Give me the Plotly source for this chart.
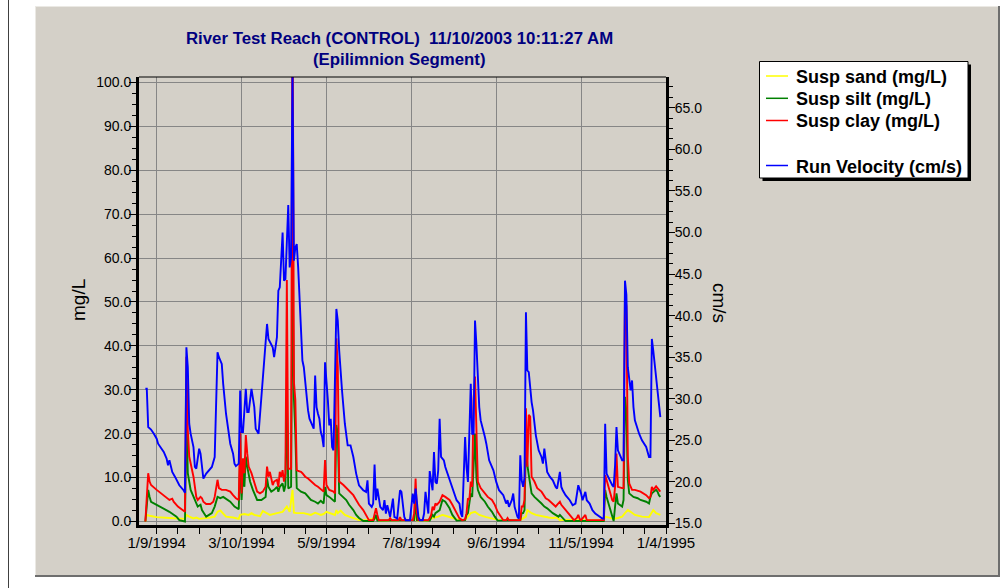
import pandas as pd
import plotly.graph_objects as go

# ---- data: day offsets from 1 Jan 1994 and readings ----
START = "1994-01-01"

vel_day = [0, 1, 2, 4, 6, 8, 9, 13, 15, 16, 17, 19, 21, 24, 27, 28, 29, 30, 31, 32, 34, 35, 36, 38, 39, 40,
           41, 43, 46, 47, 49, 51, 52, 54, 55, 57, 60, 62, 63, 64, 66, 67, 68, 69, 71, 72, 73, 75, 77, 78,
           80, 83, 85, 86, 87, 90, 91, 93, 94, 95, 97, 98, 99, 101, 102, 103, 104, 105, 106, 107, 108, 110,
           111, 112, 113, 114, 115, 116, 118, 119, 120, 121, 122, 123, 124, 125, 126, 127, 129, 130, 131,
           132, 133, 135, 136, 137, 139, 141, 143, 145, 147, 149, 151, 154, 156, 157, 158, 160, 161, 162,
           163, 164, 166, 168, 169, 170, 171, 173, 175, 176, 178, 180, 181, 182, 183, 184, 187, 189, 190,
           191, 192, 193, 194, 196, 197, 198, 200, 201, 203, 204, 205, 206, 207, 208, 209, 211, 212, 215,
           217, 218, 220, 222, 223, 224, 226, 227, 228, 230, 231, 232, 233, 234, 236, 237, 239, 240, 241,
           243, 246, 248, 250, 253, 255, 256, 257, 259, 260, 261, 262, 263, 264, 265, 266, 267, 268, 269,
           270, 271, 273, 274, 276, 278, 280, 281, 282, 283, 284, 286, 288, 290, 291, 293, 294, 295, 297,
           300, 302, 304, 306, 308, 309, 311, 312, 314, 316, 318, 321, 323, 324, 325, 326, 328, 330, 331,
           332, 333, 334, 336, 337, 338, 339, 340, 341, 343, 344, 345, 346, 349, 351, 354, 356, 357, 358,
           359, 361, 362, 363, 364]
velocity = [31.2, 31.2, 26.6, 26.3, 25.8, 25.2, 24.6, 23.6, 22.8, 22.0, 22.6, 21.2, 20.6, 19.6, 19.0, 18.7,
            36.2, 33.8, 27.0, 25.8, 24.2, 21.8, 21.6, 24.0, 23.4, 21.8, 20.4, 21.0, 21.6, 21.8, 23.0, 35.6,
            35.0, 34.2, 31.8, 28.2, 24.6, 23.4, 22.2, 21.9, 22.2, 31.0, 26.0, 26.0, 31.2, 28.4, 28.4, 31.2,
            29.0, 26.4, 25.8, 33.0, 37.2, 39.0, 37.2, 36.2, 35.0, 37.4, 43.0, 43.4, 50.0, 44.2, 44.4, 53.3,
            45.8, 47.0, 70.0, 46.6, 48.2, 48.6, 45.8, 39.0, 34.6, 33.8, 31.8, 30.2, 28.6, 27.6, 26.8, 26.4,
            32.8, 29.0, 28.2, 27.6, 26.0, 25.4, 24.2, 34.4, 29.8, 26.8, 27.6, 24.2, 23.8, 40.8, 39.4, 35.8,
            31.0, 27.0, 24.4, 24.4, 23.0, 21.0, 19.6, 19.0, 18.8, 20.2, 17.4, 17.0, 17.4, 22.1, 17.8, 19.2,
            17.0, 16.6, 17.8, 16.2, 17.2, 15.8, 18.0, 15.8, 15.6, 19.0, 18.8, 17.0, 15.8, 15.4, 15.4, 18.6,
            17.4, 19.2, 17.4, 15.8, 15.4, 15.4, 16.2, 18.8, 16.2, 21.3, 19.0, 23.6, 20.0, 19.8, 21.4, 27.6,
            23.0, 22.6, 21.8, 20.2, 19.2, 18.6, 17.8, 17.4, 16.2, 15.8, 25.4, 21.8, 20.0, 31.8, 25.8, 25.8,
            39.4, 36.5, 29.0, 27.4, 26.2, 25.4, 24.6, 22.6, 21.4, 20.0, 19.0, 18.4, 17.4, 17.8, 17.0, 17.8,
            18.6, 17.0, 16.4, 15.8, 15.6, 23.2, 20.2, 19.4, 20.5, 40.4, 33.4, 33.2, 29.6, 28.6, 25.6, 23.8,
            23.0, 22.2, 24.0, 22.2, 21.2, 20.6, 20.2, 19.4, 19.2, 21.2, 19.4, 19.0, 18.4, 17.8, 17.2, 17.4,
            19.6, 18.6, 17.8, 18.8, 17.8, 17.4, 16.6, 16.2, 15.8, 15.6, 15.6, 27.0, 21.0, 20.2, 19.6, 19.4,
            22.0, 26.6, 23.8, 23.0, 22.6, 22.6, 44.2, 42.5, 33.8, 31.0, 32.2, 29.0, 27.4, 25.8, 25.0, 24.2,
            23.0, 23.0, 37.2, 35.8, 32.6, 30.2, 29.4, 27.8]

clay_day = [0, 2, 3, 4, 8, 13, 17, 19, 20, 23, 27, 28, 29, 30, 31, 34, 36, 37, 39, 40, 41, 43, 46, 48, 49,
            51, 52, 54, 57, 60, 62, 64, 66, 67, 68, 69, 70, 71, 72, 73, 75, 77, 79, 81, 83, 85, 86, 87, 88,
            90, 91, 93, 94, 95, 96, 97, 98, 99, 100, 101, 103, 104, 105, 106, 107, 108, 110, 111, 113, 115,
            117, 120, 122, 124, 126, 127, 128, 130, 133, 134, 135, 136, 137, 140, 142, 144, 147, 149, 151,
            154, 156, 157, 158, 161, 162, 163, 164, 165, 172, 173, 174, 179, 180, 181, 189, 190, 191, 192,
            193, 200, 201, 202, 203, 204, 205, 206, 208, 210, 212, 215, 217, 220, 222, 224, 226, 227, 228,
            229, 230, 231, 232, 233, 234, 235, 237, 240, 242, 245, 247, 249, 251, 253, 255, 256, 257, 265,
            266, 267, 268, 269, 270, 271, 272, 273, 275, 277, 280, 282, 283, 285, 288, 290, 291, 293, 294,
            297, 299, 301, 303, 305, 306, 307, 308, 310, 311, 312, 324, 325, 326, 328, 330, 331, 332, 333,
            334, 337, 338, 339, 340, 341, 342, 344, 346, 350, 354, 356, 357, 358, 359, 361, 362, 363, 364]
clay = [0.0, 11.0, 9.1, 8.3, 7.2, 6.0, 4.9, 5.2, 4.5, 3.4, 2.4, 2.2, 37.5, 20.8, 14.8, 10.2, 5.6, 4.9, 5.6,
        5.3, 4.5, 4.0, 4.0, 4.5, 5.6, 9.5, 7.6, 7.2, 7.2, 6.8, 6.0, 5.3, 4.9, 20.5, 6.4, 14.4, 11.0, 19.7,
        15.5, 12.5, 11.0, 9.1, 6.8, 6.4, 6.8, 7.9, 12.5, 10.2, 11.3, 8.3, 9.1, 9.5, 7.9, 11.3, 10.2, 11.7,
        9.1, 11.0, 55.0, 12.0, 12.0, 130.0, 31.8, 27.7, 11.7, 11.5, 11.3, 11.0, 10.2, 9.8, 9.1, 8.3, 7.9,
        7.4, 6.8, 14.0, 8.3, 7.2, 6.8, 6.4, 41.7, 35.3, 9.1, 8.3, 7.6, 6.8, 6.0, 4.9, 3.8, 2.6, 1.5, 1.1,
        0.3, 0.3, 1.5, 3.0, 1.5, 0.3, 0.3, 0.8, 0.3, 0.3, 1.0, 0.3, 0.3, 1.9, 9.8, 1.9, 0.3, 0.3, 0.8, 1.5,
        3.4, 2.6, 4.1, 3.8, 4.5, 6.0, 5.6, 4.9, 3.8, 1.9, 0.7, 0.3, 0.5, 1.9, 5.3, 4.9, 9.1, 7.9, 27.7,
        33.0, 20.1, 9.1, 7.6, 6.4, 5.6, 4.9, 3.8, 2.2, 1.1, 0.3, 0.3, 0.8, 0.3, 0.3, 3.4, 3.4, 4.9, 25.8,
        12.5, 24.3, 23.9, 10.2, 9.1, 7.6, 6.8, 5.6, 5.3, 4.9, 4.1, 3.4, 3.8, 4.5, 3.8, 2.6, 1.9, 1.1, 0.3,
        0.8, 1.5, 0.6, 0.3, 1.1, 1.5, 0.3, 0.3, 10.6, 9.5, 6.8, 4.9, 4.5, 7.9, 15.5, 7.9, 7.6, 7.6, 52.0,
        49.0, 14.8, 8.7, 7.2, 7.2, 6.8, 6.0, 5.3, 5.6, 7.9, 7.2, 8.0, 7.6, 7.2, 6.8]

silt_day = [0, 2, 3, 4, 8, 13, 17, 22, 24, 28, 29, 30, 31, 32, 35, 37, 39, 40, 43, 47, 49, 51, 53, 55, 60,
            63, 66, 67, 68, 69, 70, 71, 72, 74, 76, 79, 82, 85, 86, 87, 89, 91, 93, 94, 95, 97, 98, 99, 100,
            101, 103, 104, 105, 106, 107, 110, 113, 115, 117, 120, 122, 124, 126, 127, 128, 130, 133, 134,
            135, 136, 137, 140, 142, 144, 147, 149, 151, 154, 161, 162, 163, 164, 190, 191, 192, 201, 203,
            204, 205, 208, 210, 212, 215, 217, 220, 226, 227, 228, 230, 231, 232, 233, 234, 235, 237, 240,
            242, 245, 247, 249, 265, 266, 267, 268, 269, 270, 271, 273, 275, 277, 280, 282, 284, 288, 290,
            292, 293, 295, 297, 324, 325, 326, 328, 330, 331, 332, 333, 334, 337, 338, 339, 340, 341, 342,
            345, 348, 350, 354, 356, 357, 358, 361, 362, 363, 364]
silt = [0.0, 7.2, 5.6, 4.5, 3.8, 3.0, 2.2, 1.1, 0.3, 0.0, 25.0, 11.0, 9.3, 7.2, 4.9, 3.4, 3.8, 2.6, 1.1, 1.9,
        3.4, 5.6, 5.3, 5.6, 4.5, 3.4, 2.8, 14.8, 4.9, 11.0, 7.9, 14.8, 12.5, 9.1, 7.2, 4.9, 4.9, 5.6, 9.8,
        7.9, 6.8, 7.2, 7.9, 6.8, 7.9, 8.7, 6.8, 8.3, 28.0, 7.5, 7.9, 60.0, 28.0, 20.0, 7.6, 6.8, 6.4, 5.6,
        4.9, 4.5, 4.1, 4.7, 4.1, 7.9, 6.0, 5.6, 4.9, 4.5, 22.0, 20.0, 6.4, 5.6, 4.9, 3.8, 2.6, 1.5, 0.8,
        0.1, 0.1, 0.6, 1.5, 0.2, 0.3, 5.0, 0.3, 0.2, 1.5, 1.1, 1.9, 2.6, 4.9, 4.5, 3.0, 1.5, 0.2, 0.3, 1.5,
        1.9, 6.4, 5.6, 12.0, 20.0, 10.0, 7.2, 5.6, 4.5, 3.4, 2.2, 1.1, 0.2, 0.3, 1.9, 1.9, 2.6, 17.8, 12.9,
        10.6, 6.4, 5.6, 4.9, 4.1, 3.4, 3.0, 1.9, 1.5, 1.1, 1.5, 0.8, 0.1, 0.1, 7.2, 5.6, 3.4, 1.1, 0.1,
        3.4, 6.4, 4.1, 3.4, 4.9, 28.4, 25.0, 9.5, 6.4, 5.6, 5.3, 4.9, 4.5, 4.1, 5.6, 6.4, 7.2, 6.8, 6.0,
        5.6]

sand_day = [0, 1, 3, 8, 17, 27, 28, 29, 31, 34, 36, 38, 43, 46, 49, 51, 53, 55, 57, 62, 66, 67, 70, 73, 75,
            77, 81, 83, 86, 88, 93, 97, 100, 102, 104, 105, 107, 112, 117, 120, 124, 126, 128, 131, 134,
            135, 136, 138, 141, 144, 147, 151, 157, 162, 165, 180, 190, 191, 192, 200, 203, 207, 210, 212,
            217, 222, 226, 228, 230, 233, 234, 236, 241, 246, 250, 265, 269, 270, 273, 276, 281, 285, 288,
            291, 293, 297, 303, 324, 325, 328, 331, 334, 337, 339, 341, 343, 346, 351, 356, 359, 361, 364]
sand = [0.0, 1.5, 1.3, 1.0, 0.8, 0.6, 0.6, 1.5, 1.1, 0.7, 0.9, 0.6, 0.7, 0.9, 1.1, 2.2, 2.5, 1.7, 1.1, 0.9,
        0.6, 1.5, 1.7, 1.5, 1.9, 1.5, 1.2, 2.4, 1.9, 1.5, 1.9, 2.2, 3.4, 2.2, 7.2, 2.0, 1.9, 1.9, 1.5, 2.0,
        1.5, 1.7, 2.2, 1.9, 1.5, 2.6, 1.9, 2.5, 1.5, 1.1, 0.8, 0.3, 0.3, 0.8, 0.2, 0.3, 0.3, 1.1, 0.2, 0.2,
        0.8, 1.1, 1.5, 1.3, 0.8, 0.3, 0.3, 1.1, 1.9, 2.2, 1.9, 1.5, 1.0, 0.6, 0.3, 0.3, 1.1, 2.6, 1.9, 1.5,
        1.1, 0.9, 0.8, 0.9, 0.3, 0.4, 0.3, 0.3, 1.1, 0.8, 0.6, 0.8, 1.1, 1.9, 2.6, 2.2, 1.5, 1.1, 1.0, 2.6,
        1.9, 1.5]

tick_dates = ["1994-01-09", "1994-03-10", "1994-05-09", "1994-07-08", "1994-09-06", "1994-11-05", "1995-01-04"]
tick_text = ["1/9/1994", "3/10/1994", "5/9/1994", "7/8/1994", "9/6/1994", "11/5/1994", "1/4/1995"]

TITLE_1 = "River Test Reach (CONTROL) \u00a011/10/2003 10:11:27 AM"
TITLE_2 = "(Epilimnion Segment)"


def to_dates(days):
    return pd.Timestamp(START) + pd.to_timedelta(days, unit="D")


# ---- page geometry (pixels) ----
W, H = 1004, 588
L, R, T, B = 139, 666, 77, 525
FONT = "Liberation Sans, Arial, sans-serif"
PANEL = "#d4d0c8"
LINE_W = 1.9


def px_x(px):
    return (px - L) / (R - L)


def px_y(py):
    return (B - py) / (B - T)


fig = go.Figure()

series = [
    ("Susp sand (mg/L)", sand_day, sand, "#ffff00", "y"),
    ("Susp silt (mg/L)", silt_day, silt, "#008000", "y"),
    ("Susp clay (mg/L)", clay_day, clay, "#ff0000", "y"),
    ("Run Velocity (cm/s)", vel_day, velocity, "#0000ff", "y2"),
]
for name, days, vals, color, yax in series:
    fig.add_trace(go.Scatter(
        x=to_dates(days), y=vals, name=name, mode="lines",
        line=dict(color=color, width=LINE_W), yaxis=yax,
    ))

shapes = [
    # framed grey panel
    dict(type="rect", xref="paper", yref="paper", x0=px_x(35), x1=px_x(999), y0=px_y(576), y1=px_y(6),
         fillcolor=PANEL, line=dict(width=0), layer="below"),
    dict(type="line", xref="paper", yref="paper", x0=px_x(35), x1=px_x(999), y0=px_y(6.5), y1=px_y(6.5),
         line=dict(color="#ebe9e4", width=1), layer="below"),
    dict(type="line", xref="paper", yref="paper", x0=px_x(35.5), x1=px_x(35.5), y0=px_y(576), y1=px_y(6),
         line=dict(color="#ebe9e4", width=1), layer="below"),
    dict(type="line", xref="paper", yref="paper", x0=px_x(35), x1=px_x(1000), y0=px_y(576), y1=px_y(576),
         line=dict(color="#6e6e6e", width=2), layer="below"),
    dict(type="line", xref="paper", yref="paper", x0=px_x(999), x1=px_x(999), y0=px_y(577), y1=px_y(6),
         line=dict(color="#6e6e6e", width=2), layer="below"),
    # left page rule
    dict(type="line", xref="paper", yref="paper", x0=px_x(8.5), x1=px_x(8.5), y0=px_y(588), y1=px_y(0),
         line=dict(color="#404040", width=1), layer="below"),
    # thin top frame of the plot area
    dict(type="line", xref="paper", yref="paper", x0=0, x1=1, y0=1, y1=1,
         line=dict(color="black", width=1), layer="above"),
]

annotations = [
    dict(text="<b>%s</b>" % TITLE_1, x=px_x(399), y=px_y(38), xref="paper", yref="paper",
         showarrow=False, xanchor="center", yanchor="middle",
         font=dict(family=FONT, size=16.8, color="#000080")),
    dict(text="<b>%s</b>" % TITLE_2, x=px_x(399), y=px_y(59), xref="paper", yref="paper",
         showarrow=False, xanchor="center", yanchor="middle",
         font=dict(family=FONT, size=16.8, color="#000080")),
    dict(text="mg/L", x=px_x(78), y=px_y(300), xref="paper", yref="paper", textangle=-90,
         showarrow=False, xanchor="center", yanchor="middle",
         font=dict(family=FONT, size=19, color="black")),
    dict(text="cm/s", x=px_x(720), y=px_y(303), xref="paper", yref="paper", textangle=90,
         showarrow=False, xanchor="center", yanchor="middle",
         font=dict(family=FONT, size=19, color="black")),
]

# ---- boxed key with drop shadow, one row per series (blank row before velocity) ----
KEY_L, KEY_R, KEY_T, KEY_B = 759.5, 968, 61.5, 178
key_rows = [76, 98.3, 120.5, 165.5]
shapes.append(dict(type="rect", xref="paper", yref="paper",
                   x0=px_x(KEY_L + 3), x1=px_x(KEY_R + 3), y0=px_y(KEY_B + 3), y1=px_y(KEY_T + 3),
                   fillcolor="black", line=dict(width=0), layer="above"))
shapes.append(dict(type="rect", xref="paper", yref="paper",
                   x0=px_x(KEY_L), x1=px_x(KEY_R), y0=px_y(KEY_B), y1=px_y(KEY_T),
                   fillcolor="white", line=dict(color="black", width=1), layer="above"))
for (name, _, _, color, _), row in zip(series, key_rows):
    shapes.append(dict(type="line", xref="paper", yref="paper",
                       x0=px_x(766), x1=px_x(788), y0=px_y(row), y1=px_y(row),
                       line=dict(color=color, width=1.5), layer="above"))
    annotations.append(dict(text="<b>%s</b>" % name, x=px_x(794), y=px_y(row + 1),
                            xref="paper", yref="paper", showarrow=False,
                            xanchor="left", yanchor="middle",
                            font=dict(family=FONT, size=18, color="black")))

axis_common = dict(
    showline=True, linecolor="black", linewidth=3, ticks="outside", tickcolor="black",
    tickfont=dict(family=FONT, size=14, color="black"), zeroline=False,
)

fig.update_layout(
    width=W, height=H,
    margin=dict(l=L, r=W - R, t=T, b=H - B, pad=0),
    paper_bgcolor="white", plot_bgcolor=PANEL,
    font=dict(family=FONT, color="black"),
    showlegend=False,
    xaxis=dict(
        type="date", range=["1993-12-27 12:00", "1995-01-04 00:00"],
        tickvals=tick_dates, ticktext=tick_text, ticklen=6, ticklabelstandoff=-4,
        tickfont=dict(family=FONT, size=15, color="black"),
        showgrid=True, gridcolor="#868686", gridwidth=1,
        minor=dict(ticks="outside", ticklen=6, tickcolor="black",
                   tick0="1994-01-09", dtick=15 * 86400000, showgrid=False),
        showline=True, linecolor="black", linewidth=3, ticks="outside", tickcolor="black", zeroline=False,
    ),
    yaxis=dict(
        range=[-0.80, 101.25], tick0=0, dtick=10, tickformat=".1f", ticklen=7, ticklabelstandoff=-5,
        showgrid=True, gridcolor="#868686", gridwidth=1,
        minor=dict(ticks="outside", ticklen=4, tickcolor="black", dtick=2.5, showgrid=False),
        **axis_common,
    ),
    yaxis2=dict(
        range=[14.82, 68.70], tick0=15, dtick=5, tickformat=".1f", ticklen=6, ticklabelstandoff=-3,
        overlaying="y", side="right", anchor="x", showgrid=False,
        minor=dict(ticks="outside", ticklen=4, tickcolor="black", dtick=1.25),
        **axis_common,
    ),
    shapes=shapes,
    annotations=annotations,
)

fig.write_html("out.html")
